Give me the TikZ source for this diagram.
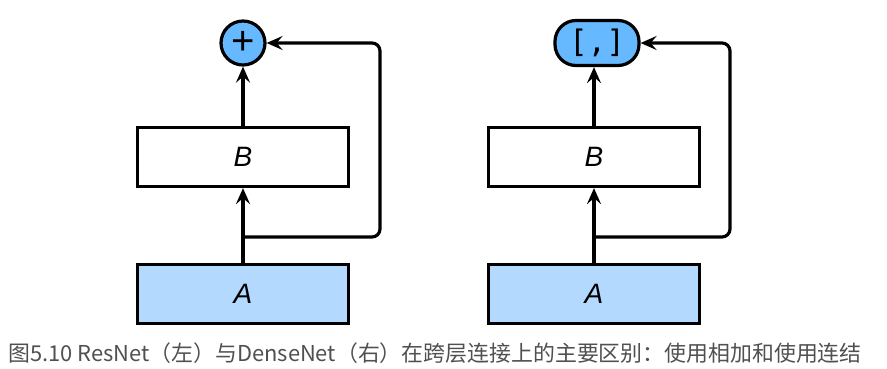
\documentclass[tikz,border=0pt]{standalone}
\usepackage{fontspec}
\setmainfont{Liberation Sans}
\newfontfamily\cjkfont{Noto Sans CJK SC}
\newfontfamily\monofont{DejaVu Sans Mono}
\usetikzlibrary{positioning,arrows.meta,calc}

\begin{document}
\begin{tikzpicture}[x=1pt,y=-1pt,
 layer/.style={draw=black,line width=3.2pt,minimum width=211pt,minimum height=59pt,inner sep=0pt,font=\fontsize{28}{30}\selectfont\itshape},
 flow/.style={-{Stealth[length=16pt,width=14pt,inset=6pt]},line width=3.2pt,draw=black},
 link/.style={line width=3.2pt,draw=black,rounded corners=8pt}]
\definecolor{inblue}{HTML}{B3D9FF}
\definecolor{opblue}{HTML}{66B8FF}
\definecolor{captiongray}{HTML}{505050}
\useasboundingbox (0,0) rectangle (887,369);
% ResNet: addition
\node[layer,fill=inblue] (a1) at (243,294) {A};
\node[layer,fill=white] (b1) at (243,157) {B};
\node[circle,draw=black,line width=3.2pt,fill=opblue,minimum size=44pt,inner sep=0pt,font=\fontsize{40}{40}\selectfont] (add) at (243,43) {\raisebox{1pt}{+}};
\coordinate (s1) at (243,237);
\coordinate (r1) at (380,237);
\draw[flow] (a1.north)--(b1.south);
\draw[flow] (b1.north)--(add.south);
\draw[link,-{Stealth[length=16pt,width=14pt,inset=6pt]}] (s1)--(r1)|-(add.east);
% DenseNet: concatenation
\node[layer,fill=inblue] (a2) at (594,294) {A};
\node[layer,fill=white] (b2) at (594,157) {B};
\node[draw=black,line width=3.2pt,fill=opblue,rounded corners=21pt,minimum width=84pt,minimum height=45pt,inner sep=0pt,font=\monofont\fontsize{31}{31}\selectfont] (cat) at (597,43) {[,]};
\coordinate (s2) at (594,237);
\coordinate (r2) at (730,237);
\draw[flow] (a2.north)--(b2.south);
\draw[flow] (b2.north)--(b2.north |- cat.south);
\draw[link,-{Stealth[length=16pt,width=14pt,inset=6pt]}] (s2)--(r2)|-(cat.east);
\node[anchor=west,text=captiongray,font=\cjkfont\fontsize{21.9}{24}\selectfont,inner sep=0pt] (caption) at (8,353)
 {图5.10 ResNet（左）与DenseNet（右）在跨层连接上的主要区别：使用相加和使用连结};
\end{tikzpicture}
\end{document}
